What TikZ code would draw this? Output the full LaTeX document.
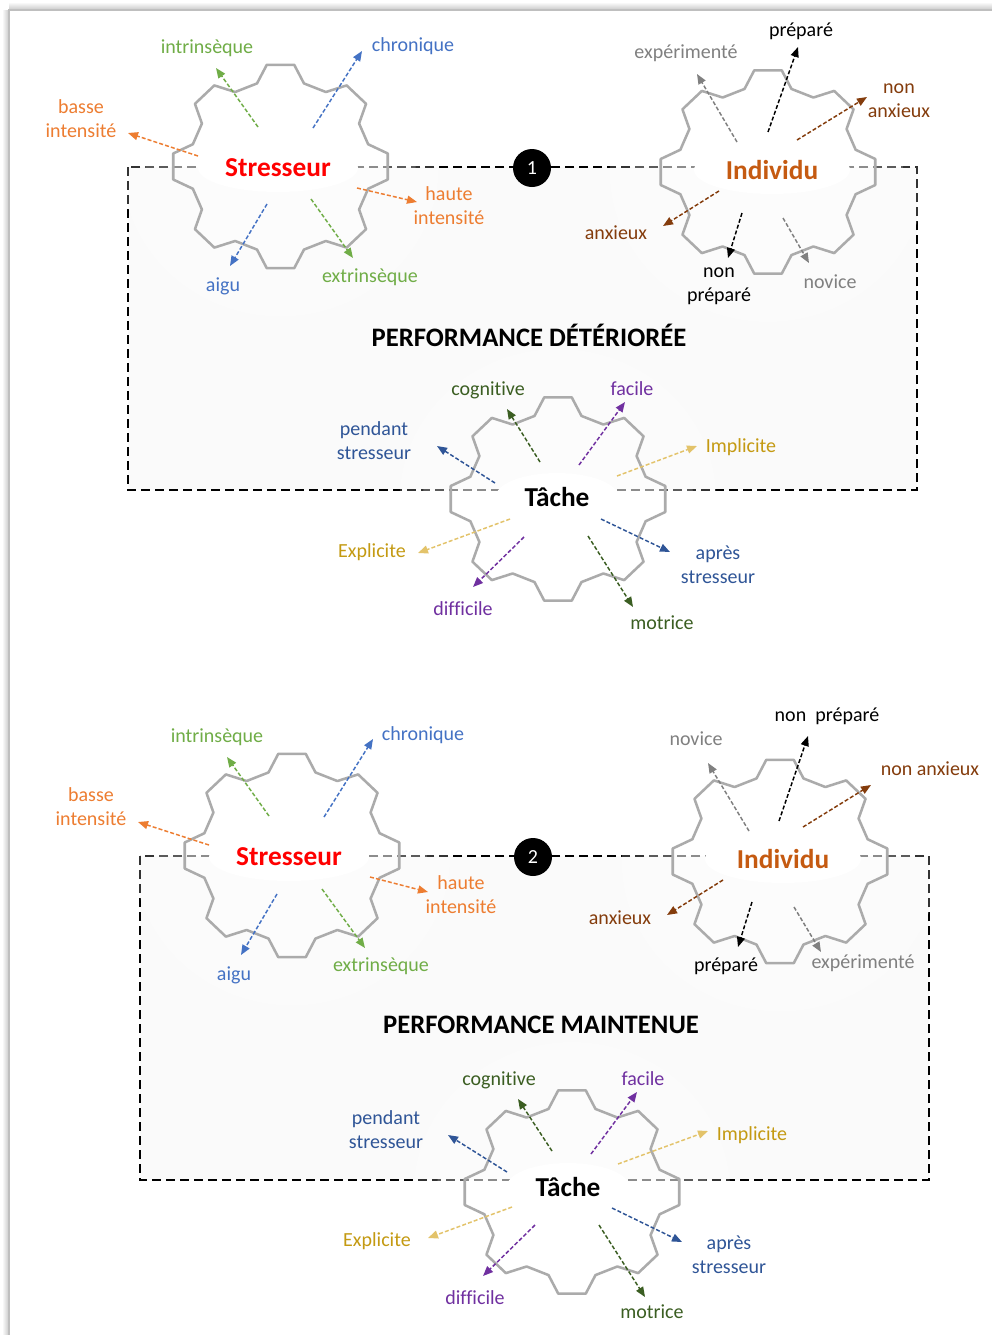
\documentclass[tikz,border=0pt]{standalone}
\usepackage{fontspec}
\setmainfont{Carlito}[Ligatures=NoCommon]
\usetikzlibrary{arrows.meta,shapes.geometric}
\definecolor{cRed}{HTML}{FF0000}
\definecolor{cIndiv}{HTML}{C55A11}
\definecolor{cOrange}{HTML}{ED7D31}
\definecolor{cGreen}{HTML}{70AD47}
\definecolor{cBlue}{HTML}{4472C4}
\definecolor{cGray}{HTML}{808080}
\definecolor{cBrown}{HTML}{843C0C}
\definecolor{cDkGreen}{HTML}{3B5E22}
\definecolor{cPurple}{HTML}{7030A0}
\definecolor{cBlueB}{HTML}{2F5597}
\definecolor{cGoldT}{HTML}{C49A12}
\definecolor{cGoldA}{HTML}{E3C36A}
\definecolor{cGear}{HTML}{ABABAB}
\definecolor{cPanel}{HTML}{FAFAFA}
\newcommand\gearat[1]{%
  \begin{scope}[shift={(#1)},xscale=1.055]
    \fill[white,opacity=0.2] (0,0) circle (150);
    \fill[white,opacity=0.2] (0,0) circle (128);
    \draw[gearline] (-15:86) \foreach \a in {0,45,...,315}{ -- (\a-15:86) -- (\a-7.3:102.5) -- (\a+7.3:102.5) -- (\a+15:86)} -- cycle;
  \end{scope}}
\newcommand\arl[7]{%
  \coordinate (#1s) at (#2);
  \coordinate (#1e) at (#3);
  \draw[arr,#4] (#1s) -- (#1e);
  \node[lbl,text=#5] (#1) at (#6) {#7};}
\begin{document}
\begin{tikzpicture}[x=0.75pt,y=-0.75pt,
  lbl/.style={font=\fontsize{15}{18}\selectfont,align=center,inner sep=0pt},
  ttl/.style={font=\bfseries\fontsize{20}{24}\selectfont,inner sep=0pt},
  hub/.style={ellipse,fill=white,minimum height=36pt,inner sep=0pt,font=\bfseries\fontsize{20.5}{24}\selectfont},
  arr/.style={line width=1.1pt,dash pattern=on 3pt off 1.6pt,-{Triangle[length=7.5pt,width=6pt]}},
  panel/.style={fill=cPanel,draw=black,line width=1.5pt,dash pattern=on 6.5pt off 4pt},
  gearline/.style={draw=cGear,line width=1.9pt,fill=white,fill opacity=0.3,line join=round},
  num/.style={circle,fill=black,minimum size=28.5pt,inner sep=0pt,text=white,font=\fontsize{15}{18}\selectfont}]
\useasboundingbox (0,0) rectangle (992,1335);
\fill[white] (0,0) rectangle (992,1335);
% page frame
\shade[top color=white,bottom color=black!22] (9,2) rectangle (992,10);
\shade[left color=white,right color=black!22] (2,10) rectangle (9,1335);
\draw[black!25,line width=1.2pt] (9,1335) -- (9,10) -- (992,10);

% ================= DIAGRAM 1 =================
\draw[panel] (128,167) rectangle (917,490);
\gearat{280.5,166.5}
\gearat{768,172}
\gearat{558,499}
\node[hub,minimum width=120pt,text=cRed] (st1) at (278,168) {Stresseur};
\node[hub,minimum width=117pt,text=cIndiv] (in1) at (772,170) {Individu};
\node[hub,minimum width=92pt,text=black] (ta1) at (557,497) {Tâche};
\node[num] (n1) at (532,168) {1};
\node[ttl] (p1) at (529,335) {PERFORMANCE DÉTÉRIORÉE};
% Stresseur
\arl{a1}{258,127}{216,68}{cGreen}{cGreen}{207,48}{intrinsèque}
\arl{a2}{313,128}{362,51}{cBlue}{cBlue}{413,46}{chronique}
\arl{a3}{198,156}{128,133}{cOrange}{cOrange}{81,119}{basse\\intensité}
\arl{a4}{357,188}{417,202}{cOrange}{cOrange}{449,206}{haute\\intensité}
\arl{a5}{267,204}{230,266}{cBlue}{cBlue}{223,286}{aigu}
\arl{a6}{311,199}{353,258}{cGreen}{cGreen}{370,277}{extrinsèque}
% Individu
\arl{b1}{737,142}{697,74}{cGray}{cGray}{686,53}{expérimenté}
\arl{b2}{768,132}{798,47}{black}{black}{801,31}{préparé}
\arl{b3}{797,140}{867,97}{cBrown}{cBrown}{899,101}{non\\anxieux}
\arl{b4}{719,191}{663,226}{cBrown}{cBrown}{616,233}{anxieux}
\arl{b5}{742,213}{728,258}{black}{black}{719,286}{non\\préparé}
\arl{b6}{783,218}{809,263}{cGray}{cGray}{830,282}{novice}
% Tache
\arl{c1}{540,462}{507,409}{cDkGreen}{cDkGreen}{488,390}{cognitive}
\arl{c2}{579,465}{625,402}{cPurple}{cPurple}{632,389}{facile}
\arl{c3}{495,483}{437,446}{cBlueB}{cBlueB}{374,441}{pendant\\stresseur}
\arl{c4}{617,476}{697,446}{cGoldA}{cGoldT}{741,447}{Implicite}
\arl{c5}{510,519}{418,553}{cGoldA}{cGoldT}{372,552}{Explicite}
\arl{c6}{524,537}{473,587}{cPurple}{cPurple}{463,609}{difficile}
\arl{c7}{601,519}{670,552}{cBlueB}{cBlueB}{718,565}{après\\stresseur}
\arl{c8}{588,536}{633,607}{cDkGreen}{cDkGreen}{662,623}{motrice}

% ================= DIAGRAM 2 =================
\draw[panel] (140,856) rectangle (929,1180);
\gearat{292,855.5}
\gearat{780,861.5}
\gearat{572,1192}
\node[hub,minimum width=120pt,text=cRed] (st2) at (289,857) {Stresseur};
\node[hub,minimum width=117pt,text=cIndiv] (in2) at (783,859) {Individu};
\node[hub,minimum width=92pt,text=black] (ta2) at (568,1187) {Tâche};
\node[num] (n2) at (533,857) {2};
\node[ttl] (p2) at (541,1025) {PERFORMANCE MAINTENUE};
% Stresseur
\arl{d1}{269,816}{227,757}{cGreen}{cGreen}{217,737}{intrinsèque}
\arl{d2}{324,817}{373,739}{cBlue}{cBlue}{423,735}{chronique}
\arl{d3}{209,845}{138,822}{cOrange}{cOrange}{91,807}{basse\\intensité}
\arl{d4}{370,877}{428,892}{cOrange}{cOrange}{461,895}{haute\\intensité}
\arl{d5}{277,894}{241,955}{cBlue}{cBlue}{234,975}{aigu}
\arl{d6}{322,889}{365,948}{cGreen}{cGreen}{381,966}{extrinsèque}
% Individu
\arl{e1}{749,831}{708,763}{cGray}{cGray}{696,739}{novice}
\arl{e2}{779,821}{808,736}{black}{black}{827,716}{non~~préparé}
\arl{e3}{803,827}{871,785}{cBrown}{cBrown}{930,769}{non anxieux}
\arl{e4}{723,880}{667,915}{cBrown}{cBrown}{620,918}{anxieux}
\arl{e5}{752,902}{738,947}{black}{black}{726,966}{préparé}
\arl{e6}{794,907}{821,952}{cGray}{cGray}{863,963}{expérimenté}
% Tache
\arl{f1}{552,1151}{518,1099}{cDkGreen}{cDkGreen}{499,1080}{cognitive}
\arl{f2}{591,1154}{637,1092}{cPurple}{cPurple}{643,1079}{facile}
\arl{f3}{507,1172}{448,1135}{cBlueB}{cBlueB}{386,1130}{pendant\\stresseur}
\arl{f4}{618,1164}{708,1131}{cGoldA}{cGoldT}{752,1135}{Implicite}
\arl{f5}{512,1207}{428,1238}{cGoldA}{cGoldT}{377,1241}{Explicite}
\arl{f6}{535,1225}{483,1276}{cPurple}{cPurple}{475,1298}{difficile}
\arl{f7}{612,1208}{682,1242}{cBlueB}{cBlueB}{729,1255}{après\\stresseur}
\arl{f8}{599,1225}{645,1297}{cDkGreen}{cDkGreen}{652,1312}{motrice}
\end{tikzpicture}
\end{document}
